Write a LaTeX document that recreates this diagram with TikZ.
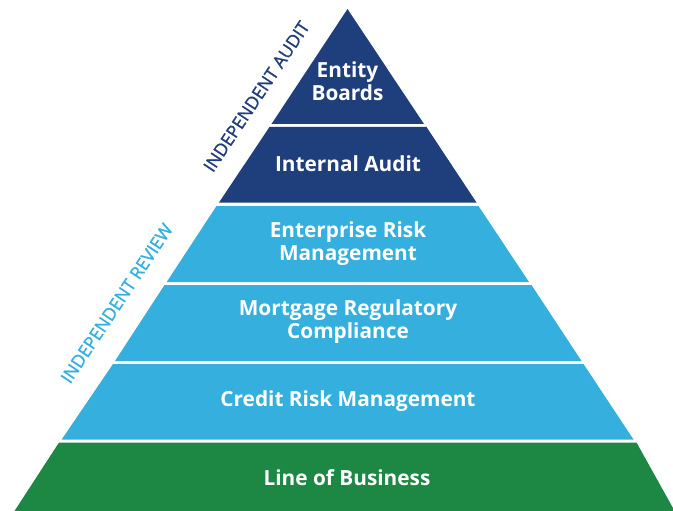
\documentclass[tikz,border=0pt]{standalone}
\usepackage{fontspec}
\setmainfont{Open Sans}
\newfontfamily\flankfont{Open Sans}[FakeBold=1.2]
\definecolor{navy}{HTML}{1F3E7C}
\definecolor{sky}{HTML}{35AFDD}
\definecolor{leaf}{HTML}{1D8843}
\begin{document}
\begin{tikzpicture}[x=1pt,y=-1pt,
  tier/.style={text=white,font=\bfseries\fontsize{20.8}{23}\selectfont,align=center,inner sep=0pt},
  sidelabel/.style={font=\flankfont\fontsize{17.6}{19}\selectfont,inner sep=0pt,rotate=56.4}]
\useasboundingbox (0,0) rectangle (673,511);
\begin{scope}
\clip (0,0) rectangle (673,511);
% pyramid tiers, top to bottom
\fill[navy] (347.5,9) -- (424,124) -- (271.5,124) -- cycle;
\fill[navy] (269.5,127) -- (426.5,127) -- (476.5,202.5) -- (219,202.5) -- cycle;
\fill[sky] (216.5,206) -- (478.5,206) -- (529,282) -- (166.7,282) -- cycle;
\fill[sky] (164.5,285) -- (531.5,285) -- (581.5,361) -- (115,361) -- cycle;
\fill[sky] (113,364) -- (583.5,364) -- (633.5,439.5) -- (61.7,439.5) -- cycle;
\fill[leaf] (59,442.5) -- (636.5,442.5) -- (673,508) -- (673,511) -- (14.5,511) -- cycle;
\end{scope}
% tier captions
\node[tier] (boards) at (347.5,81) {Entity\\Boards};
\node[tier] (audit) at (348,163.5) {Internal Audit};
\node[tier] (erm) at (348,243.5) {Enterprise Risk\\Management};
\node[tier] (mrc) at (348,322) {Mortgage Regulatory\\Compliance};
\node[tier] (crm) at (348,400.8) {Credit Risk Management};
\node[tier] (lob) at (347,478) {Line of Business};
% oversight labels along the left flank
\node[sidelabel,text=navy] (indaudit) at (256.5,96.5) {INDEPENDENT AUDIT};
\node[sidelabel,text=sky] (indreview) at (116.7,303.3) {INDEPENDENT REVIEW};
\end{tikzpicture}
\end{document}
